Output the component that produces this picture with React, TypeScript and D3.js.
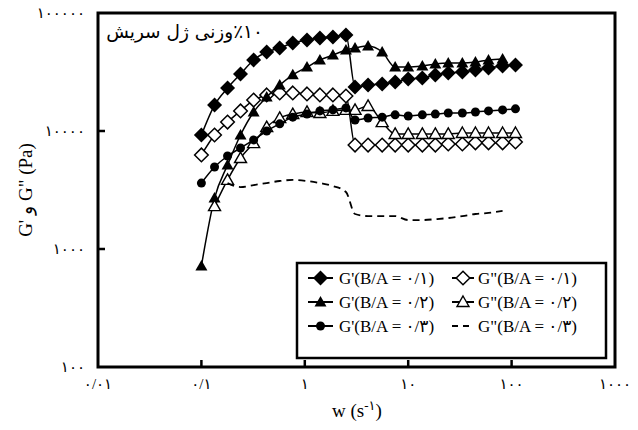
import React from 'react';
import * as d3 from 'd3';

const W = 638;
const H = 430;

// frequency grid (s^-1): first sweep and second sweep
const wSeg1 = [0.1, 0.134, 0.179, 0.239, 0.32, 0.428, 0.572, 0.765, 1.05, 1.4, 1.87, 2.5];
const wSeg2 = [3.06, 4.09, 5.6, 7.48, 10, 13.7, 18.3, 24.4, 33.4, 44.7, 59.8, 81.8, 109];

// G' and G'' (Pa)
const gp01 = [9250, 16600, 23100, 30400, 40000, 46700, 50500, 55700, 59000, 61400, 62700, 65200,
  23600, 24500, 25000, 26000, 27600, 28100, 29800, 31000, 31600, 32900, 34200, 35600, 36300];
const gpp01 = [6270, 9250, 11900, 14800, 18300, 20200, 21000, 21000, 20600, 20200, 20200, 19800,
  7600, 7600, 7600, 7600, 7600, 7600, 7600, 7760, 7760, 7940, 7940, 7940, 8080];
const gp02 = [718, 2700, 5150, 9250, 14500, 19400, 24500, 29900, 34800, 40000, 44000, 48500,
  50500, 52500, 46700, 34800, 34800, 35600, 37000, 37700, 37700, 38400, 40000, 40700];
const gpp02 = [2310, 3850, 5900, 7900, 10800, 12900, 13900, 14500, 14200, 14800, 15100,
  15100, 16300, 11900, 9440, 9440, 9440, 9440, 9440, 9620, 9620, 9620, 9620, 9620];
const gp03 = [3620, 4950, 6140, 7180, 8400, 10000, 11500, 13100, 13900, 14800, 15100, 15700,
  12400, 12900, 13100, 13700, 13400, 13700, 13900, 14200, 14200, 14500, 14800, 15100, 15400];
const gpp03 = [3620, 3350, 3480, 3620, 3770, 3850, 3770, 3620, 3420, 3040,
  1980, 1900, 1900, 1900, 1760, 1760, 1790, 1830, 1900, 1980, 2020, 2100];

const wAll = [...wSeg1, ...wSeg2];

const xTicks = [0.01, 0.1, 1, 10, 100, 1000];
const yTicks = [100, 1000, 10000, 100000];

const seriesLabels = [
  "G'(B/A = ۰/۱)", 'G"(B/A = ۰/۱)',
  "G'(B/A = ۰/۲)", 'G"(B/A = ۰/۲)',
  "G'(B/A = ۰/۳)", 'G"(B/A = ۰/۳)',
];

const titleText = '٪۱۰وزنی ژل سریش';
const yTitle = 'G\' و G" (Pa)';

type Kind = 'dF' | 'dO' | 'tF' | 'tO' | 'cF' | 'dash';

const series: { kind: Kind; w: number[]; g: number[] }[] = [
  { kind: 'dF', w: wAll, g: gp01 },
  { kind: 'dO', w: wAll, g: gpp01 },
  { kind: 'tF', w: wAll.slice(0, gp02.length), g: gp02 },
  { kind: 'tO', w: wAll.slice(1, 1 + gpp02.length), g: gpp02 },
  { kind: 'cF', w: wAll, g: gp03 },
  { kind: 'dash', w: wAll.slice(2, 2 + gpp03.length), g: gpp03 },
];

const fa = (s: string) => s.replace(/[0-9]/g, (d) => '۰۱۲۳۴۵۶۷۸۹'[+d]).replace('.', '/');

const SERIF: React.CSSProperties = { fontFamily: "'Liberation Serif', 'DejaVu Sans', serif" };
const ARAB: React.CSSProperties = { fontFamily: "'DejaVu Sans', 'Liberation Serif', serif" };

function Marker({ kind, x, y }: { kind: Kind; x: number; y: number }) {
  if (kind === 'dF' || kind === 'dO') {
    const r = kind === 'dF' ? 7.5 : 6.8;
    const pts = `${x},${y - r} ${x + r},${y} ${x},${y + r} ${x - r},${y}`;
    return kind === 'dF'
      ? <polygon points={pts} fill="#000" />
      : <polygon points={pts} fill="#fff" stroke="#000" strokeWidth={1.5} />;
  }
  if (kind === 'tF' || kind === 'tO') {
    const pts = `${x},${y - 6} ${x + 6},${y + 4.5} ${x - 6},${y + 4.5}`;
    return kind === 'tF'
      ? <polygon points={pts} fill="#000" />
      : <polygon points={pts} fill="#fff" stroke="#000" strokeWidth={1.4} />;
  }
  if (kind === 'cF') return <circle cx={x} cy={y} r={4.5} fill="#000" />;
  return null;
}

export default function App() {
  const x = d3.scaleLog().domain([0.01, 1000]).range([98, 615]);
  const y = d3.scaleLog().domain([100, 100000]).range([367, 13]);
  const line = d3.line<[number, number]>()
    .x((d) => x(d[0]))
    .y((d) => y(d[1]))
    .curve(d3.curveMonotoneX);

  const legX = [297, 606];
  const legY = [263, 358];
  const rowY = [278, 302, 326];
  const colLine = [[308, 333], [452, 474]];
  const colText = [339, 478];

  return (
    <svg width={W} height={H} style={{ position: 'absolute', left: 0, top: 0, background: '#fff' }}>
      <rect x={0} y={0} width={W} height={H} fill="#fff" />
      {/* series */}
      {series.map((s, i) => {
        const pts = s.g.map((g, j) => [s.w[j], g] as [number, number]);
        return (
          <g key={i}>
            <path d={line(pts) || ''} fill="none" stroke="#000"
              strokeWidth={s.kind === 'dash' ? 1.8 : 1.5}
              strokeDasharray={s.kind === 'dash' ? '7,5' : undefined} />
            {pts.map((p, j) => <Marker key={j} kind={s.kind} x={x(p[0])} y={y(p[1])} />)}
          </g>
        );
      })}
      {/* frame */}
      <rect x={98} y={13} width={517} height={354} fill="none" stroke="#000" strokeWidth={3} />
      {/* ticks */}
      {xTicks.slice(1, -1).map((t) => (
        <line key={t} x1={x(t)} x2={x(t)} y1={367} y2={360} stroke="#000" strokeWidth={2.5} />
      ))}
      {yTicks.slice(1, -1).map((t) => (
        <line key={t} x1={98} x2={105} y1={y(t)} y2={y(t)} stroke="#000" strokeWidth={2.5} />
      ))}
      {/* tick labels */}
      {xTicks.map((t) => (
        <text key={t} x={x(t)} y={389} textAnchor="middle" fontSize={15} style={SERIF}>{fa(String(t))}</text>
      ))}
      {yTicks.map((t) => (
        <text key={t} x={85} y={y(t) + 5} textAnchor="end" fontSize={15} style={SERIF}>{fa(String(t))}</text>
      ))}
      {/* axis titles */}
      <text x={357} y={417} textAnchor="middle" fontSize={19} style={SERIF}>
        w (s<tspan dy={-7} fontSize={13}>-{fa('1')}</tspan><tspan dy={7}>)</tspan>
      </text>
      <text transform="translate(32,190) rotate(-90)" textAnchor="middle" fontSize={19} style={SERIF}>{yTitle}</text>
      {/* title */}
      <text x={263} y={38} direction="rtl" textAnchor="start" fontSize={18.5} style={ARAB}>{titleText}</text>
      {/* legend */}
      <rect x={legX[0]} y={legY[0]} width={legX[1] - legX[0]} height={legY[1] - legY[0]}
        fill="#fff" stroke="#000" strokeWidth={2.5} />
      {series.map((s, i) => {
        const col = i % 2;
        const row = Math.floor(i / 2);
        const cy = rowY[row];
        const [l0, l1] = colLine[col];
        return (
          <g key={i}>
            <line x1={l0} x2={l1} y1={cy} y2={cy} stroke="#000" strokeWidth={2}
              strokeDasharray={s.kind === 'dash' ? '6,5' : undefined} />
            <Marker kind={s.kind} x={(l0 + l1) / 2} y={cy} />
            <text x={colText[col]} y={cy + 6} fontSize={17} style={SERIF}>{seriesLabels[i]}</text>
          </g>
        );
      })}
    </svg>
  );
}
